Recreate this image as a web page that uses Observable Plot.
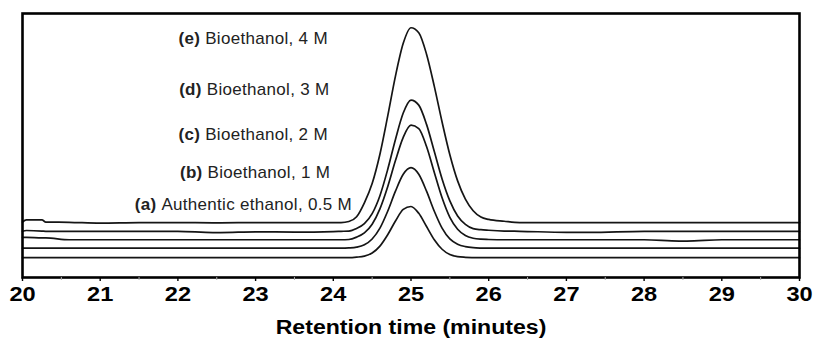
<!DOCTYPE html>
<html><head><meta charset="utf-8">
<script src="https://cdn.jsdelivr.net/npm/d3@7"></script>
<script src="https://cdn.jsdelivr.net/npm/@observablehq/plot@0.6"></script>
<style>
html,body{margin:0;padding:0;background:#fff;}
#chart svg{display:block;}
</style>
</head><body><div id="chart"></div>
<script>
// Retention time (minutes) sample points
const times = [20.0, 20.05, 20.25, 20.3, 20.6, 21.0, 21.5, 22.0, 22.45, 22.55, 23.0, 23.5, 24.0, 24.1,
  24.2, 24.3, 24.4, 24.5, 24.6, 24.7, 24.8, 24.9, 25.0, 25.1, 25.2, 25.3, 25.4, 25.5, 25.6, 25.7, 25.8, 25.9, 26.0, 26.2, 26.4,
  27.0, 27.3, 28.0, 28.45, 28.55, 29.0, 30.0];

// Detector signal (arbitrary units, offset traces)
const signalA = [7.5, 7.5, 7.5, 7.5, 7.5, 7.5, 7.5, 7.5, 7.5, 7.5, 7.5, 7.5, 7.5, 7.5,
  7.5, 7.7, 8.1, 9.3, 11.9, 16.2, 21.4, 25.8, 26.9, 24.3, 19.3, 14.3, 10.7, 8.7, 7.9, 7.65, 7.55, 7.5, 7.5, 7.5, 7.5,
  7.5, 7.5, 7.5, 7.5, 7.5, 7.5, 7.5];
const signalB = [11.1, 11.1, 11.1, 11.1, 11.1, 11.1, 11.1, 11.1, 11.1, 11.1, 11.1, 11.1, 11.1, 11.1,
  11.2, 11.5, 12.4, 14.6, 18.7, 25.1, 32.7, 39.1, 41.6, 39.1, 32.7, 25.1, 18.7, 14.6, 12.6, 11.7, 11.3, 11.15, 11.1, 11.1, 11.1,
  11.1, 11.1, 11.1, 11.1, 11.1, 11.1, 11.1];
const signalC = [15.2, 15.2, 15.0, 15.0, 14.3, 14.3, 14.3, 14.3, 14.3, 14.3, 14.3, 14.3, 14.3, 14.3,
  14.4, 15.3, 16.9, 20.2, 26.0, 34.4, 44.3, 53.1, 57.7, 56.4, 49.6, 39.8, 30.2, 22.8, 18.3, 15.9, 14.85, 14.5, 14.4, 14.3, 14.3,
  14.3, 14.3, 14.3, 13.8, 13.8, 14.3, 14.3];
const signalD = [17.5, 17.8, 17.6, 17.5, 17.5, 17.5, 17.5, 17.5, 17.0, 17.0, 17.3, 17.2, 17.4, 17.5,
  17.6, 18.6, 20.4, 24.2, 31.0, 40.9, 52.3, 62.3, 67.2, 65.3, 58.0, 47.7, 37.3, 29.0, 23.3, 20.1, 18.5, 18.1, 17.9, 17.6, 17.5,
  17.1, 17.1, 17.5, 17.5, 17.5, 17.5, 17.5];
const signalE = [21.0, 21.8, 21.8, 21.0, 20.9, 20.6, 20.8, 20.8, 20.7, 20.7, 20.8, 20.8, 20.8, 20.8,
  21.2, 23.0, 28.3, 35.6, 46.7, 61.1, 76.3, 88.7, 94.6, 92.7, 84.6, 72.4, 58.9, 46.5, 36.6, 29.7, 25.3, 22.9, 22.0, 21.3, 20.8,
  20.8, 20.8, 20.8, 20.8, 20.8, 20.8, 20.8];

const seriesKeys = ["a", "b", "c", "d", "e"];
const seriesValues = [signalA, signalB, signalC, signalD, signalE];
const labelPrefixes = ["(a)", "(b)", "(c)", "(d)", "(e)"];
const labelTexts = ["Authentic ethanol, 0.5 M", "Bioethanol, 1 M", "Bioethanol, 2 M", "Bioethanol, 3 M", "Bioethanol, 4 M"];
const labelTimes = [24.24, 23.96, 23.93, 23.95, 23.93];
const labelLevels = [25.6, 37.8, 52.2, 69.2, 88.6];

const xTicks = [20, 21, 22, 23, 24, 25, 26, 27, 28, 29, 30];
const xMinorTicks = [20.5, 21.5, 22.5, 23.5, 24.5, 25.5, 26.5, 27.5, 28.5, 29.5];
const xTitle = "Retention time (minutes)";

const rows = seriesKeys.flatMap((k, s) => times.map((t, i) => ({series: k, t, v: seriesValues[s][i]})));
const labels = seriesKeys.map((k, i) => ({t: labelTimes[i], v: labelLevels[i], full: labelPrefixes[i] + " " + labelTexts[i]}));

const FONT = "'Liberation Sans', Arial, Helvetica, sans-serif";

const plot = Plot.plot({
  width: 816, height: 339,
  marginLeft: 22, marginRight: 17, marginTop: 13, marginBottom: 62,
  x: {domain: [20, 30]},
  y: {domain: [0, 100], axis: null},
  style: {fontFamily: FONT, background: "#fff", color: "#000"},
  marks: [
    Plot.line(rows, {x: "t", y: "v", z: "series", stroke: "#151515", strokeWidth: 1.7, curve: "monotone-x"}),
    Plot.frame({stroke: "#000", strokeWidth: 2.6}),
    Plot.axisX(xMinorTicks, {tickSize: 3, tickFormat: () => "", stroke: "#aaa", strokeWidth: 1, label: null}),
    Plot.axisX(xTicks, {tickSize: 4, tickPadding: 5, tickFormat: d => String(d), fontSize: 20, fontWeight: "bold", fill: "#000", stroke: "#000", strokeWidth: 1.4, label: null}),
    Plot.text(labels, {x: "t", y: "v", text: "full", textAnchor: "end", lineAnchor: "bottom", fontSize: 17, fill: "#222"}),
    Plot.text([xTitle], {text: d => d, frameAnchor: "bottom", dy: 56, lineAnchor: "bottom", fontSize: 21, fontWeight: "bold", fill: "#000"})
  ]
});
document.getElementById("chart").appendChild(plot);

const NS = "http://www.w3.org/2000/svg";
function stretch(t, s, anchor) {
  const g = document.createElementNS(NS, "g");
  t.parentNode.insertBefore(g, t);
  g.appendChild(t);
  const b2 = g.getBBox();
  const cx = anchor === "end" ? b2.x + b2.width : anchor === "start" ? b2.x : b2.x + b2.width / 2;
  g.setAttribute("transform", `translate(${cx},0) scale(${s},1) translate(${-cx},0)`);
}
// tick labels
plot.querySelectorAll('g[aria-label="x-axis tick label"] text').forEach(t => {
  t.style.fontWeight = "bold"; t.style.fontSize = "20px";
  stretch(t, 1.18, "middle");
});
// annotation labels: bold prefix
plot.querySelectorAll('g[aria-label="text"] text').forEach(t => {
  const full = t.textContent;
  if (full.startsWith("(")) {
    const i = full.indexOf(")") + 1;
    t.textContent = "";
    const b = document.createElementNS(NS, "tspan");
    b.setAttribute("font-weight", "bold");
    b.textContent = full.slice(0, i);
    const r = document.createElementNS(NS, "tspan");
    r.textContent = "\u00a0" + full.slice(i + 1);
    t.appendChild(b); t.appendChild(r);
    t.setAttribute("letter-spacing", "0.3");
  } else if (full === xTitle) {
    stretch(t, 1.1, "middle");
  }
});
</script>
</body></html>
